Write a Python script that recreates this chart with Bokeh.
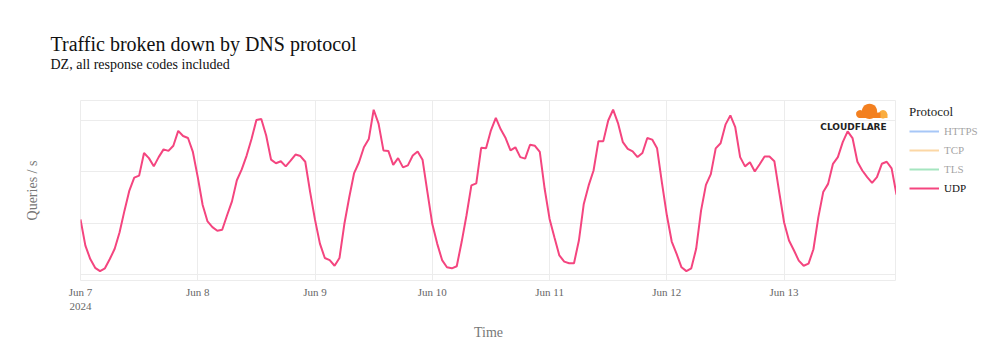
import math
import pandas as pd
from bokeh.plotting import figure
from bokeh.layouts import row
from bokeh.models import (Range1d, FixedTicker, DaysTicker, CustomJSTickFormatter,
                          Legend, LegendItem, Label, PolyAnnotation, Title)
from bokeh.embed import file_html
from bokeh.resources import INLINE

# ---------------- data ----------------
start_time = "2024-06-07 00:00"
udp_qps = [
    # Jun 7
    1.07, 0.56, 0.30, 0.13, 0.065, 0.12, 0.30, 0.50, 0.82, 1.24, 1.63, 1.88,
    1.92, 2.36, 2.26, 2.10, 2.28, 2.43, 2.40, 2.50, 2.79, 2.69, 2.65, 2.38,
    # Jun 8
    1.89, 1.35, 1.03, 0.92, 0.85, 0.87, 1.15, 1.42, 1.83, 2.04, 2.31, 2.63,
    3.00, 3.02, 2.70, 2.23, 2.16, 2.20, 2.10, 2.21, 2.33, 2.30, 2.19, 1.60,
    # Jun 9
    1.06, 0.60, 0.32, 0.28, 0.17, 0.32, 0.98, 1.50, 1.97, 2.18, 2.47, 2.63,
    3.20, 2.93, 2.41, 2.40, 2.13, 2.26, 2.08, 2.12, 2.31, 2.39, 2.23, 1.60,
    # Jun 10
    0.98, 0.60, 0.28, 0.14, 0.12, 0.16, 0.63, 1.15, 1.73, 1.77, 2.46, 2.45,
    2.80, 3.04, 2.82, 2.65, 2.41, 2.47, 2.28, 2.25, 2.52, 2.50, 2.38, 1.66,
    # Jun 11
    1.08, 0.72, 0.37, 0.25, 0.22, 0.22, 0.66, 1.37, 1.73, 2.02, 2.59, 2.59,
    2.99, 3.20, 2.94, 2.57, 2.44, 2.39, 2.28, 2.36, 2.65, 2.62, 2.45, 1.78,
    # Jun 12
    1.15, 0.64, 0.40, 0.14, 0.065, 0.12, 0.50, 1.24, 1.74, 1.95, 2.45, 2.55,
    2.91, 3.09, 2.86, 2.28, 2.10, 2.18, 2.00, 2.14, 2.29, 2.29, 2.20, 1.60,
    # Jun 13
    1.01, 0.66, 0.47, 0.27, 0.17, 0.21, 0.49, 1.11, 1.60, 1.76, 2.15, 2.28,
    2.57, 2.78, 2.65, 2.19, 2.02, 1.89, 1.78, 1.89, 2.15, 2.19, 2.06, 1.55,
]

protocols = ["HTTPS", "TCP", "TLS", "UDP"]
protocol_colors = ["#2373eb", "#f79b1e", "#20be61", "#f4457f"]
protocol_shown = [False, False, False, True]   # HTTPS/TCP/TLS are legend-only
y_grid_values = [0, 1, 2, 3]

times = pd.date_range(start_time, periods=len(udp_qps), freq="h")

# ---------------- layout ----------------
W, H = 896, 360          # main chart
LW = 98                  # legend strip on the right
FL, FT, FR, FB = 80, 100, 896, 280
SERIF = "Liberation Serif"

p = figure(width=W, height=H, x_axis_type="datetime", output_backend="svg",
           toolbar_location=None,
           x_range=Range1d(times[0], times[-1]),
           y_range=Range1d(-0.1165, 3.379),
           min_border_left=FL, min_border_right=W - FR,
           min_border_top=FT, min_border_bottom=H - FB)
p.background_fill_color = "white"
p.border_fill_color = "white"
p.outline_line_color = "#ececec"

# titles (first added sits closest to the frame; the first is a spacer)
p.add_layout(Title(text=" ", text_font=SERIF, text_font_size="25px",
                   standoff=0), "above")
p.add_layout(Title(text="DZ, all response codes included", align="left",
                   offset=50 - FL, text_font=SERIF, text_font_size="14px",
                   text_font_style="normal", text_color="#111111",
                   standoff=0), "above")
p.add_layout(Title(text="Traffic broken down by DNS protocol", align="left",
                   offset=50 - FL, text_font=SERIF, text_font_size="20px",
                   text_font_style="normal", text_color="#111111",
                   standoff=0), "above")

# x axis
p.xaxis.ticker = DaysTicker(days=list(range(1, 32)))
p.xaxis.formatter = CustomJSTickFormatter(code="""
const m = ["Jan","Feb","Mar","Apr","May","Jun","Jul","Aug","Sep","Oct","Nov","Dec"];
const d = new Date(tick);
let s = m[d.getUTCMonth()] + " " + d.getUTCDate();
if (index == 0) { s += "\\n" + d.getUTCFullYear(); }
return s;
""")
p.xaxis.major_label_text_font = SERIF
p.xaxis.major_label_text_font_size = "11px"
p.xaxis.major_label_text_color = "#666666"
p.xaxis.major_label_standoff = 5
p.xaxis.axis_label = "Time"
p.xaxis.axis_label_text_font = SERIF
p.xaxis.axis_label_text_font_size = "14px"
p.xaxis.axis_label_text_font_style = "normal"
p.xaxis.axis_label_text_color = "#777777"
p.xaxis.axis_label_standoff = 10

# y axis (no tick labels in the reference)
p.yaxis.ticker = FixedTicker(ticks=y_grid_values)
p.yaxis.formatter = CustomJSTickFormatter(code="return '';")
p.yaxis.major_label_standoff = 0
p.yaxis.axis_label = "Queries / s"
p.yaxis.axis_label_text_font = SERIF
p.yaxis.axis_label_text_font_size = "14px"
p.yaxis.axis_label_text_font_style = "normal"
p.yaxis.axis_label_text_color = "#777777"
p.yaxis.axis_label_standoff = 41

for ax in (p.xaxis, p.yaxis):
    ax.axis_line_color = None
    ax.major_tick_line_color = None
    ax.minor_tick_line_color = None
    ax.major_tick_out = 0
    ax.major_tick_in = 0
    ax.minor_tick_out = 0
    ax.minor_tick_in = 0

p.grid.grid_line_color = "#ececec"
p.grid.grid_line_width = 1

# ---------------- series ----------------
p.line(x=times, y=udp_qps, line_color=protocol_colors[3], line_width=2)


# ---------------- logo (screen units, relative to the frame) ----------------
def sx(ref_x):
    return ref_x - FL


def sy(ref_y):
    return FB - ref_y


def circle_pts(cx, cy, r, n=28):
    xs = [sx(cx + r * math.cos(2 * math.pi * k / n)) for k in range(n)]
    ys = [sy(cy + r * math.sin(2 * math.pi * k / n)) for k in range(n)]
    return xs, ys


def rect_pts(x0, y0, x1, y1):
    return [sx(x0), sx(x1), sx(x1), sx(x0)], [sy(y0), sy(y0), sy(y1), sy(y1)]


light = "#faad3f"
dark = "#f38020"
shapes = [
    (circle_pts(882.5, 113.8, 4.2), light),
    (rect_pts(876, 113.8, 887, 117.6), light),
    (circle_pts(869, 110.8, 7.6), dark),
    (circle_pts(859.6, 113.6, 4.0), dark),
    (rect_pts(859.6, 112, 880, 117.6), dark),
]
for (xs, ys), col in shapes:
    p.add_layout(PolyAnnotation(xs=xs, ys=ys, xs_units="screen", ys_units="screen",
                                fill_color=col, fill_alpha=1.0, line_color=None))

p.add_layout(Label(x=sx(853), y=sy(126.5), x_units="screen", y_units="screen",
                   text="CLOUDFLARE", text_font="DejaVu Sans",
                   text_font_style="bold", text_font_size="9px",
                   text_color="#222222", text_align="center",
                   text_baseline="alphabetic"))

# ---------------- legend strip ----------------
lg = figure(width=LW, height=H, output_backend="svg", toolbar_location=None,
            x_range=Range1d(0, 1), y_range=Range1d(0, 1),
            x_axis_location=None, y_axis_location=None,
            min_border_left=0, min_border_right=0,
            min_border_top=FT, min_border_bottom=H - FB)
lg.grid.visible = False
lg.outline_line_color = None
lg.background_fill_color = "white"
lg.border_fill_color = "white"

items = []
for name, color, shown in zip(protocols, protocol_colors, protocol_shown):
    # legend key only: a single NaN point draws nothing in the strip
    r = lg.line(x=[float("nan")], y=[float("nan")], line_color=color,
                line_width=2, visible=shown)
    items.append(LegendItem(label=name, renderers=[r]))

legend = Legend(items=items, title="Protocol", click_policy="hide",
                location=(13, FB - 196.3),
                title_text_font=SERIF, title_text_font_size="13px",
                title_text_font_style="normal", title_text_color="#222222",
                title_standoff=3,
                label_text_font=SERIF, label_text_font_size="11px",
                label_text_color="#111111",
                glyph_width=30, glyph_height=16, label_height=16,
                label_standoff=5, spacing=3, padding=0, margin=0,
                border_line_color=None, background_fill_alpha=0,
                inactive_fill_color="white", inactive_fill_alpha=0.6)
lg.add_layout(legend)

layout = row(p, lg, spacing=0)
open("out.html", "w").write(file_html(layout, INLINE))
